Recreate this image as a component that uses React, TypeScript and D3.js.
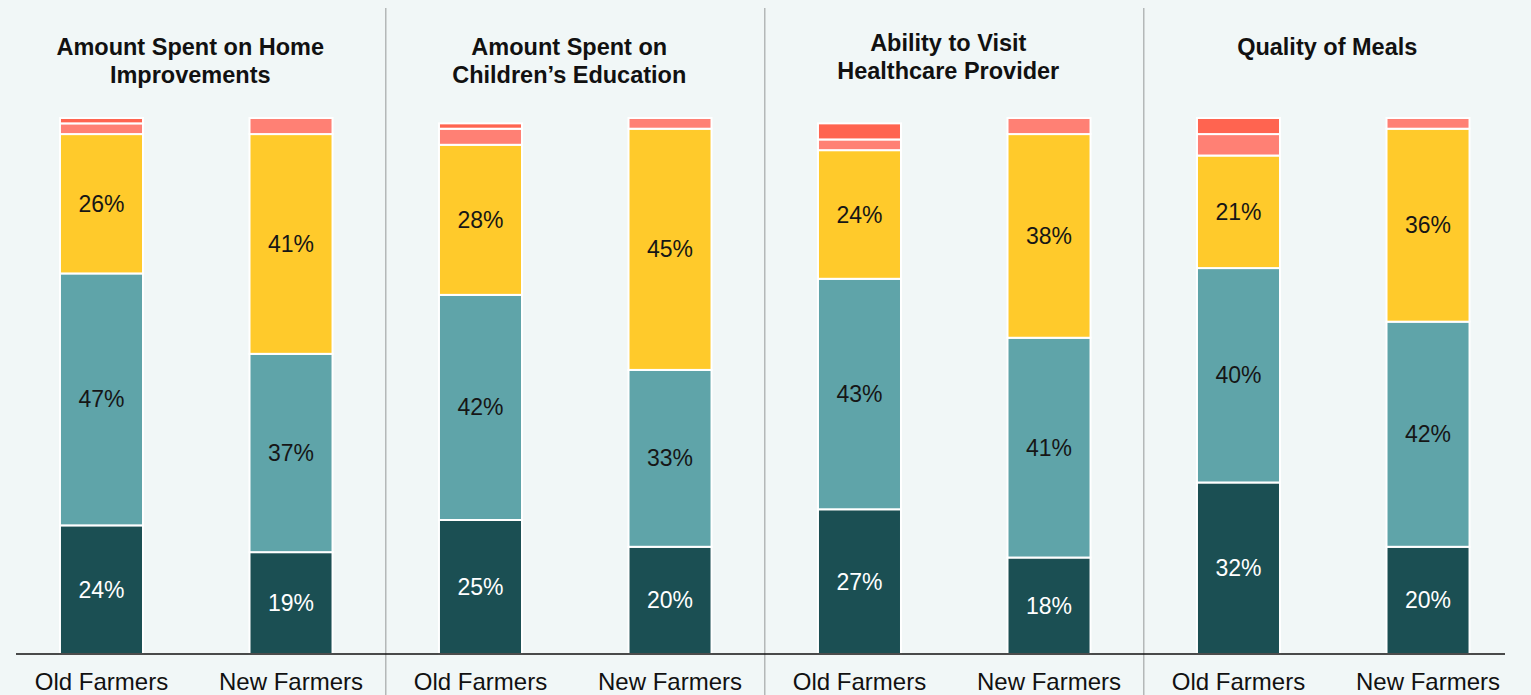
import React from "react";
import * as d3 from "d3";

const panels = [
  ["Amount Spent on Home", "Improvements"],
  ["Amount Spent on", "Children’s Education"],
  ["Ability to Visit", "Healthcare Provider"],
  ["Quality of Meals"],
];
const groups = ["Old Farmers", "New Farmers"];
const seriesKeys = ["s1", "s2", "s3", "s4", "s5"];
// bottom to top: dark teal, teal, yellow, light red, dark red
const s1 = [24, 19, 25, 20, 27, 18, 32, 20];
const s2 = [47, 37, 42, 33, 43, 41, 40, 42];
const s3 = [26, 41, 28, 45, 24, 38, 21, 36];
const s4 = [2, 3, 3, 2, 2, 3, 4, 2];
const s5 = [1, 0, 1, 0, 3, 0, 3, 0];
const colors = ["#1b4f53", "#5fa4a9", "#ffca2b", "#ff8074", "#ff6450"];
const labelColors = ["#ffffff", "#161616", "#161616", "#161616", "#161616"];
const showLabel = [true, true, true, false, false];

const W = 1531;
const H = 695;

export default function App() {
  const rows = panels.flatMap((_, pi) =>
    groups.map((g, gi) => {
      const i = pi * 2 + gi;
      return { panel: pi, group: g, s1: s1[i], s2: s2[i], s3: s3[i], s4: s4[i], s5: s5[i] };
    })
  );
  const stack = d3.stack<any>().keys(seriesKeys);
  const layers = stack(rows);

  const outer = d3
    .scaleBand<number>()
    .domain(panels.map((_, i) => i))
    .range([16, 16 + 4 * 379])
    .paddingInner(0)
    .paddingOuter(0);
  const innerW = 360.5;
  const inner = d3
    .scaleBand<string>()
    .domain(groups)
    .range([0, innerW])
    .paddingInner(0.562)
    .paddingOuter(0.232);
  const y = d3.scaleLinear().domain([0, 100]).range([654, 118]);

  const font = "'Liberation Sans', Arial, Helvetica, sans-serif";

  return (
    <svg
      width={W}
      height={H}
      style={{ position: "absolute", left: 0, top: 0, background: "#f1f7f7" }}
    >
      <rect x={0} y={0} width={W} height={H} fill="#f1f7f7" />
      {/* dividers */}
      {panels.slice(1).map((_, i) => {
        const prevRight = (outer(i) as number) + innerW;
        const nextLeft = outer(i + 1) as number;
        const x = (prevRight + nextLeft) / 2;
        return (
          <line key={"d" + i} x1={x} x2={x} y1={8} y2={H} stroke="#b4b8b8" strokeWidth={1.5} />
        );
      })}
      {/* bars */}
      {layers.map((layer, li) =>
        layer.map((d, di) => {
          const row = rows[di];
          const x0 = (outer(row.panel) as number) + (inner(row.group) as number);
          const h = y(d[0]) - y(d[1]);
          if (h <= 0) return null;
          return (
            <rect
              key={li + "-" + di}
              x={x0}
              y={y(d[1])}
              width={inner.bandwidth()}
              height={h}
              fill={colors[li]}
              stroke="#ffffff"
              strokeWidth={2}
            />
          );
        })
      )}
      {/* value labels */}
      {layers.map((layer, li) =>
        showLabel[li]
          ? layer.map((d, di) => {
              const row = rows[di];
              const cx =
                (outer(row.panel) as number) + (inner(row.group) as number) + inner.bandwidth() / 2;
              const cy = (y(d[0]) + y(d[1])) / 2;
              return (
                <text
                  key={"l" + li + "-" + di}
                  x={cx}
                  y={cy}
                  dy="0.35em"
                  textAnchor="middle"
                  fontFamily={font}
                  fontSize={23}
                  fill={labelColors[li]}
                >
                  {`${d[1] - d[0]}%`}
                </text>
              );
            })
          : null
      )}
      {/* baseline */}
      <line x1={16} x2={1505} y1={654} y2={654} stroke="#111" strokeWidth={1.5} />
      {/* category labels */}
      {rows.map((row, di) => {
        const cx = (outer(row.panel) as number) + (inner(row.group) as number) + inner.bandwidth() / 2;
        return (
          <text
            key={"c" + di}
            x={cx}
            y={690}
            textAnchor="middle"
            fontFamily={font}
            fontSize={24}
            fill="#111"
          >
            {row.group}
          </text>
        );
      })}
      {/* titles */}
      {panels.map((lines, pi) => {
        const cx = (outer(pi) as number) + innerW / 2 - 6;
        return (
          <text
            key={"t" + pi}
            x={cx}
            textAnchor="middle"
            fontFamily={font}
            fontSize={23.5}
            fontWeight="bold"
            fill="#111"
          >
            {lines.map((ln, k) => (
              <tspan key={k} x={cx} y={(pi === 2 ? 51 : 55) + k * 28}>
                {ln}
              </tspan>
            ))}
          </text>
        );
      })}
    </svg>
  );
}
